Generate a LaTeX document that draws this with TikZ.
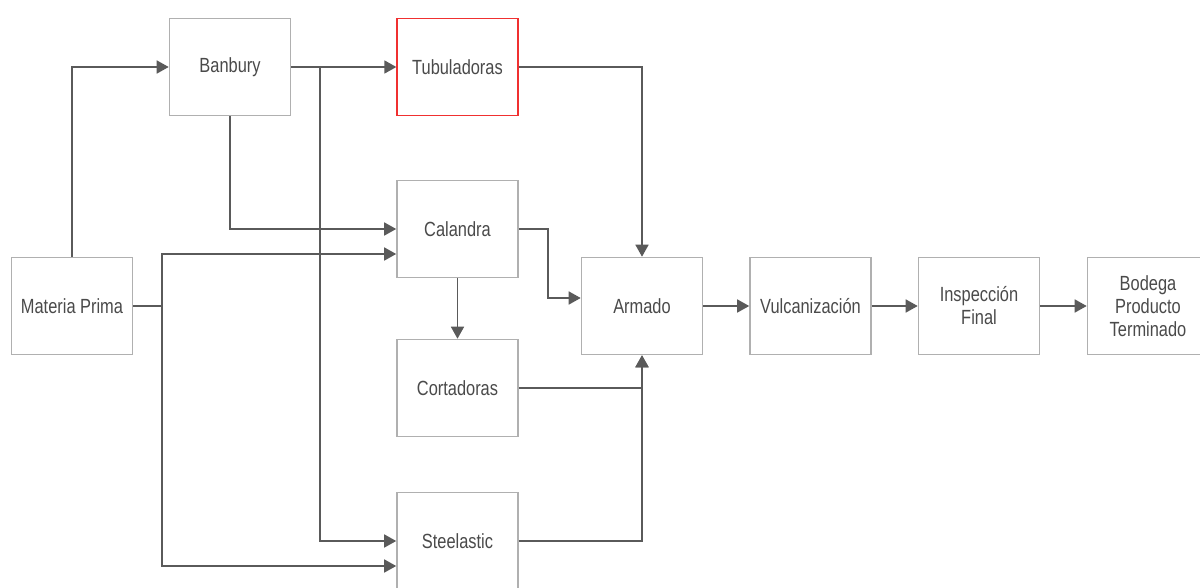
\documentclass[tikz,border=0pt]{standalone}
\usepackage{fontspec}
\setmainfont{Liberation Sans}[FakeStretch=0.8]
\usetikzlibrary{arrows.meta}
\definecolor{boxline}{HTML}{B0B0B0}
\definecolor{conn}{HTML}{5A5A5A}
\definecolor{txt}{HTML}{4A4A4A}
\definecolor{redline}{HTML}{F03030}
\begin{document}
\begin{tikzpicture}[x=1pt,y=-1pt,
  box/.style={draw=boxline,line width=1.6pt,fill=white,minimum width=121pt,minimum height=97pt,inner sep=0pt,
    text=txt,align=center,font=\fontsize{20.5}{23}\selectfont},
  redbox/.style={box,draw=redline,line width=1.3pt},
  conn/.style={draw=conn,line width=1.6pt},
  arr/.style={conn,-{Triangle[length=12pt,width=13pt]}}]
\useasboundingbox (0,0) rectangle (1200,587);
\clip (0,0) rectangle (1200,587);
\fill[white] (0,0) rectangle (1200,587);
% nodes
\node[box] (mp) at (72,306) {Materia Prima};
\node[box] (ban) at (230,67) {Banbury};
\node[redbox] (tub) at (457.5,67) {Tubuladoras};
\node[box] (cal) at (457.5,229) {Calandra};
\node[box] (cor) at (457.5,388) {Cortadoras};
\node[box] (ste) at (457.5,541) {Steelastic};
\node[box] (arm) at (642,306) {Armado};
\node[box] (vul) at (810.5,306) {Vulcanización};
\node[box] (ins) at (979,306) {Inspección\\Final};
\node[box] (bod) at (1148,306) {Bodega\\Producto\\Terminado};
% junctions
\coordinate (j1) at (162,306);
\coordinate (j2) at (320,67);
% connectors
\draw[arr] (mp.north) |- (ban.west);
\draw[conn] (mp.east) -- (j1);
\draw[arr] (j1) |- ([yshift=-25pt]cal.west);
\draw[arr] (j1) |- ([yshift=-25pt]ste.west);
\draw[arr] (ban.east) -- (tub.west);
\draw[arr] (j2) |- (ste.west);
\draw[arr] (ban.south) |- (cal.west);
\draw[arr] (tub.east) -| (arm.north);
\draw[arr] (cal.east) -- ++(29,0) |- ([yshift=8pt]arm.west);
\draw[arr] (cal.south) -- (cor.north);
\draw[arr] (cor.east) -| (arm.south);
\draw[arr] (ste.east) -| (arm.south);
\draw[arr] (arm.east) -- (vul.west);
\draw[arr] (vul.east) -- (ins.west);
\draw[arr] (ins.east) -- (bod.west);
\end{tikzpicture}
\end{document}
